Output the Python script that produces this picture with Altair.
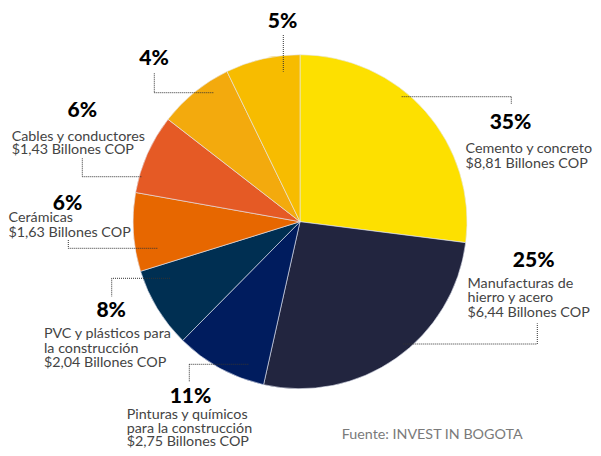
import altair as alt
import pandas as pd

# ---- data ----
categories = ["Cemento y concreto", "Manufacturas de hierro y acero",
              "Pinturas y químicos para la construcción",
              "PVC y plásticos para la construcción", "Cerámicas",
              "Cables y conductores", "Otros 4", "Otros 5"]
pct_labels = ["35%", "25%", "11%", "8%", "6%", "6%", "4%", "5%"]
# slice sizes as drawn in the picture (share of the full circle, %)
slice_share = [27.0, 26.5, 8.9, 7.8, 7.6, 7.7, 7.3, 7.2]
billones = [8.81, 6.44, 2.75, 2.04, 1.63, 1.43, None, None]
desc_lines = [
    ["Cemento y concreto"],
    ["Manufacturas de", "hierro y acero"],
    ["Pinturas y químicos", "para la construcción"],
    ["PVC y plásticos para", "la construcción"],
    ["Cerámicas"],
    ["Cables y conductores"],
    [],
    [],
]
colors = ["#FDE000", "#22253F", "#001C5E", "#002F52",
          "#E76700", "#E55A25", "#F3AA0D", "#F7BC00"]
source = "Fuente: INVEST IN BOGOTA"

# ---- layout (page pixel coordinates of the reference) ----
OFF = 8
center = (300, 221.7)
radius = 167
pct_pos = [(510.5, 129.3), (533.7, 267.3), (190.5, 402.7), (111.2, 317.3),
           (67.5, 209.5), (82.3, 117.3), (154, 65), (282.5, 27.8)]
desc_pos = [(465.5, 153.3), (467.5, 287.7), (126.7, 419.3), (44, 338.3),
            (8.5, 221.7), (11.7, 141), None, None]
line_gaps = [14.2, 14.5, 13.2, 14.2, 15.6, 13.3, 0, 0]
leaders = [
    [(401.7, 96.7), (511.3, 96.7), (511.3, 104)],
    [(403.3, 344), (537.3, 344), (537.3, 323.3)],
    [(248.3, 364.3), (189.3, 364.3), (189.3, 381.7)],
    [(170, 278.3), (111.7, 278.3), (111.7, 296.7)],
    [(68.3, 240), (68.3, 248.3), (158.3, 248.3)],
    [(82.3, 158.3), (82.3, 176.7), (141.7, 176.7)],
    [(154.3, 73.3), (154.3, 92.7), (213.3, 92.7)],
    [(283.3, 35), (283.3, 71.7)],
]

FONT = "Lato"

pie_df = pd.DataFrame({"cat": categories, "share": slice_share,
                       "idx": list(range(len(categories)))})

pie = alt.Chart(pie_df).mark_arc(
    outerRadius=radius, stroke="#e4e8f4", strokeWidth=0.6
).encode(
    theta=alt.Theta("share:Q", stack=True),
    order=alt.Order("idx:Q"),
    color=alt.Color("cat:N", scale=alt.Scale(domain=categories, range=colors),
                    legend=None),
    x=alt.value(center[0] - OFF),
    y=alt.value(center[1] - OFF),
)

pct_df = pd.DataFrame({
    "label": pct_labels,
    "px": [p[0] - OFF for p in pct_pos],
    "py": [p[1] - OFF for p in pct_pos],
})
pct = alt.Chart(pct_df).mark_text(
    font=FONT, fontSize=21, fontWeight=900, color="#000000",
    align="center", baseline="alphabetic"
).encode(
    x=alt.X("px:Q", scale=None), y=alt.Y("py:Q", scale=None), text="label:N"
)

rows = []
for i, lines in enumerate(desc_lines):
    if desc_pos[i] is None:
        continue
    all_lines = list(lines)
    if billones[i] is not None:
        all_lines.append("$" + f"{billones[i]:.2f}".replace(".", ",") + " Billones COP")
    x0, y0 = desc_pos[i]
    for j, t in enumerate(all_lines):
        rows.append({"t": t, "px": x0 - OFF, "py": y0 + j * line_gaps[i] - OFF})
desc_df = pd.DataFrame(rows)
desc = alt.Chart(desc_df).mark_text(
    font=FONT, fontSize=14.3, fontWeight=400, color="#444444",
    align="left", baseline="alphabetic"
).encode(
    x=alt.X("px:Q", scale=None), y=alt.Y("py:Q", scale=None), text="t:N"
)

seg_rows = []
for pts in leaders:
    for a, b in zip(pts[:-1], pts[1:]):
        seg_rows.append({"x1": a[0] - OFF, "y1": a[1] - OFF,
                         "x2": b[0] - OFF, "y2": b[1] - OFF})
seg_df = pd.DataFrame(seg_rows)
segs = alt.Chart(seg_df).mark_rule(
    color="#333333", strokeWidth=1, strokeDash=[1, 1]
).encode(
    x=alt.X("x1:Q", scale=None), y=alt.Y("y1:Q", scale=None),
    x2="x2:Q", y2="y2:Q"
)

src = alt.Chart(pd.DataFrame({"t": [source]})).mark_text(
    font=FONT, fontSize=14.3, fontWeight=400, color="#7a7a7a",
    align="left", baseline="alphabetic"
).encode(
    x=alt.value(341.7 - OFF), y=alt.value(439.3 - OFF), text="t:N"
)

chart = alt.layer(pie, segs, pct, desc, src).properties(
    width=585, height=440, padding=0,
    autosize=alt.AutoSizeParams(type="none"),
    background="white"
).configure_view(stroke=None)

chart.save("out.html", embed_options={"renderer": "svg", "actions": False})
